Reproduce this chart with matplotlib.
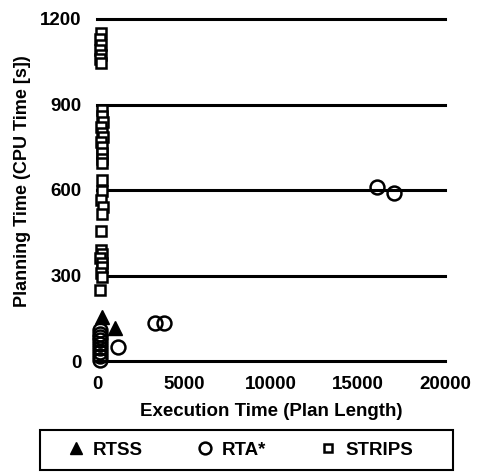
import numpy as np
import matplotlib
matplotlib.use("Agg")
import matplotlib.pyplot as plt
from matplotlib.patches import Rectangle

plt.rcParams['font.family'] = ['Liberation Sans', 'DejaVu Sans']

# RTSS (filled triangles)
rtss_x = [290, 1035]
rtss_y = [155, 116]

# RTA* (open circles)
rta_x = [170, 150, 190, 160, 180, 150, 190, 170, 160, 1210, 3335, 3850, 16100, 17080]
rta_y = [108, 96, 84, 72, 58, 44, 30, 16, 5, 49, 133, 133, 611, 590]

# STRIPS (open squares)
strips_y = [1150, 1130, 1110, 1090, 1075, 1060, 1045,
            880, 860, 840, 820, 800, 785, 770, 750, 730, 710, 695,
            635, 595, 565, 540, 515, 455,
            390, 375, 360, 345, 330, 310, 295, 250]
strips_x = [220, 180, 250, 200, 230, 190, 210,
            300, 260, 320, 240, 280, 330, 250, 290, 270, 310, 260,
            300, 280, 250, 320, 270, 220,
            240, 290, 200, 310, 260, 230, 300, 180]

yticks = [0, 300, 600, 900, 1200]
xticks = [0, 5000, 10000, 15000, 20000]

FS = 13.5

fig = plt.figure(figsize=(4.78, 4.72), dpi=100)
ax = fig.add_axes([97/478, 1 - 361/472, (445 - 97)/478, (361 - 19)/472])

for yv in yticks:
    ax.axhline(yv, color='black', lw=2.2, zorder=1, clip_on=False)

ax.plot(strips_x, strips_y, linestyle='none', marker='s', ms=7.5, mfc='white',
        mec='black', mew=1.8, clip_on=False, zorder=3, label='STRIPS')
ax.plot(rta_x, rta_y, linestyle='none', marker='o', ms=10, mfc='none',
        mec='black', mew=1.8, clip_on=False, zorder=4, label='RTA*')
ax.plot(rtss_x, rtss_y, linestyle='none', marker='^', ms=10, mfc='black',
        mec='black', clip_on=False, zorder=5, label='RTSS')

ax.set_xlim(0, 20000)
ax.set_ylim(0, 1200)
ax.set_xticks(xticks)
ax.set_yticks(yticks)
ax.set_xticklabels([str(v) for v in xticks], fontsize=FS, fontweight='bold')
ax.set_yticklabels([str(v) for v in yticks], fontsize=FS, fontweight='bold')
ax.tick_params(axis='y', length=0, pad=11)
ax.tick_params(axis='x', length=0, pad=11)
for s in ax.spines.values():
    s.set_visible(False)

ax.set_xlabel("Execution Time (Plan Length)", fontsize=FS, fontweight='bold', labelpad=7)
ax.set_ylabel("Planning Time (CPU Time [s])", fontsize=13, fontweight='bold')
ax.yaxis.set_label_coords(-0.19, 0.526)

# legend box drawn separately, entries centred inside it
fig.patches.append(Rectangle((40/478, 2/472), 413/478, 40/472, transform=fig.transFigure,
                             fill=False, edgecolor='black', lw=1.5))
handles, labels = ax.get_legend_handles_labels()
order = [2, 1, 0]
fig.legend([handles[i] for i in order], [labels[i] for i in order],
           loc='center', bbox_to_anchor=(239/478, 22/472), ncol=3, frameon=False,
           prop={'size': FS, 'weight': 'bold'}, handletextpad=0.3,
           handlelength=1.2, columnspacing=2.7, borderaxespad=0, markerscale=0.85)

fig.savefig("out.png", dpi=100)
